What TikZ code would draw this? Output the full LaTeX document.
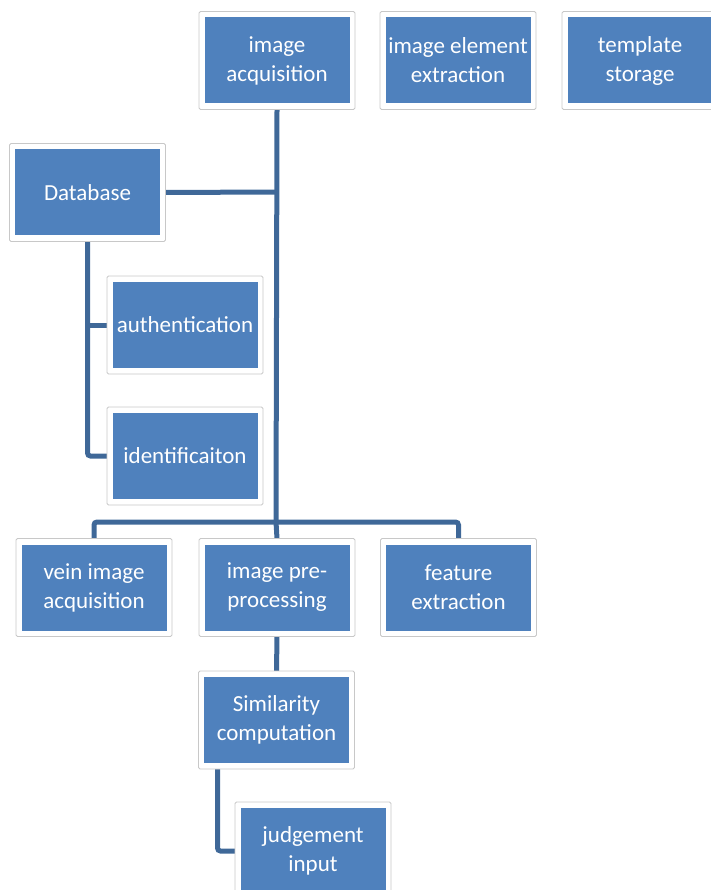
\documentclass[tikz,border=0pt]{standalone}
\usepackage{fontspec}
\setmainfont{Carlito}
\usetikzlibrary{backgrounds}
\definecolor{boxblue}{HTML}{4F81BD}
\definecolor{linkblue}{HTML}{3F6898}
\definecolor{framegray}{HTML}{C8C8C8}
\tikzset{
  frame/.style={draw=framegray, line width=0.8pt, fill=white, rounded corners=1.5pt,
    minimum width=156pt, minimum height=98pt, inner sep=0pt, outer sep=0pt},
  core/.style={fill=boxblue, minimum width=145pt, minimum height=86pt, inner sep=0pt,
    text=white, align=center, font=\fontsize{23pt}{29pt}\selectfont},
  link/.style={draw=linkblue, line width=5pt, rounded corners=3pt},
}
\newcommand{\mybox}[4]{%
  \node[frame] (#1) at (#2,#3) {};
  \node[core] (#1c) at (#2,#3) {#4};
}
\begin{document}
\begin{tikzpicture}[x=1pt,y=-1pt]
\useasboundingbox (0,0) rectangle (710,890);
\mybox{acq}{277}{60.5}{image\\acquisition}
\mybox{elem}{458}{60.5}{image element\\extraction}
\mybox{tmpl}{640}{60.5}{template\\storage}
\mybox{db}{87.5}{192.5}{Database}
\mybox{auth}{185}{325}{authentication}
\mybox{ident}{185}{456}{identificaiton}
\mybox{vein}{94}{587.5}{vein image\\acquisition}
\mybox{prep}{277}{587.5}{image pre-\\processing}
\mybox{feat}{458.5}{587.5}{feature\\extraction}
\mybox{sim}{276.5}{720}{Similarity\\computation}
\mybox{judg}{313}{851}{judgement\\input}
\coordinate (jb) at (276,522);
\coordinate (jd) at (276,192);
\coordinate (ja) at (87.5,325);
\begin{pgfonlayer}{background}
\path[link] (acq.south) -- (jb);
\path[link] (db.east) -- (jd);
\path[link] (vein.north) |- (jb) -| (feat.north);
\path[link] (jb) -- (prep.north);
\path[link] (prep.south) -- (sim.north);
\path[link] (db.south) |- (ident.west);
\path[link] (ja) -- (auth.west);
\path[link] ([xshift=-59pt]sim.south) |- (judg.west);
\end{pgfonlayer}
\end{tikzpicture}
\end{document}
